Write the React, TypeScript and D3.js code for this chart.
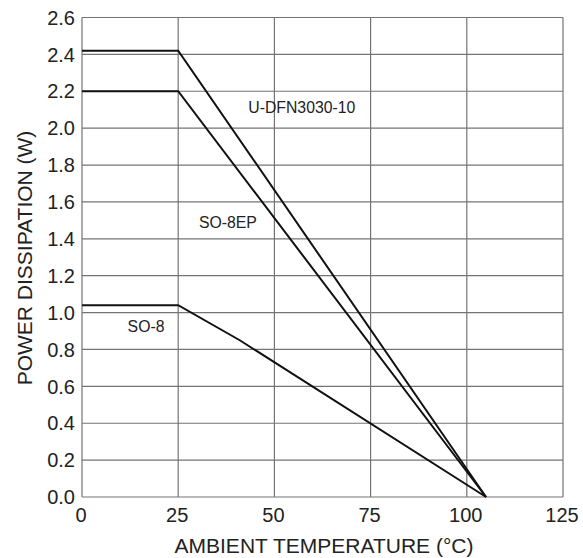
import React from "react";
import * as d3 from "d3";

const xTicks = [0, 25, 50, 75, 100, 125];
const yTicks = [0, 0.2, 0.4, 0.6, 0.8, 1.0, 1.2, 1.4, 1.6, 1.8, 2.0, 2.2, 2.4, 2.6];

const udfnTemp = [0, 25, 105];
const udfnPower = [2.42, 2.42, 0];
const so8epTemp = [0, 25, 105];
const so8epPower = [2.2, 2.2, 0];
const so8Temp = [0, 25, 41, 105];
const so8Power = [1.04, 1.04, 0.85, 0];

const seriesLabels = ["U-DFN3030-10", "SO-8EP", "SO-8"];

const W = 583;
const H = 558;
const FONT = "'Liberation Sans', Arial, Helvetica, sans-serif";

export default function App() {
  const x = d3.scaleLinear().domain([0, 125]).range([82, 563]);
  const y = d3.scaleLinear().domain([0, 2.6]).range([497, 17.5]);
  const line = d3
    .line<[number, number]>()
    .x((d) => x(d[0]))
    .y((d) => y(d[1]));
  const zip = (a: number[], b: number[]) => a.map((v, i) => [v, b[i]] as [number, number]);
  const series = [
    { pts: zip(udfnTemp, udfnPower), label: seriesLabels[0], lx: 43.2, ly: 2.08 },
    { pts: zip(so8epTemp, so8epPower), label: seriesLabels[1], lx: 30.4, ly: 1.457 },
    { pts: zip(so8Temp, so8Power), label: seriesLabels[2], lx: 11.85, ly: 0.896 },
  ];
  const gridColor = "#747474";
  return (
    <svg
      width={W}
      height={H}
      style={{ position: "absolute", left: 0, top: 0, background: "#fff" }}
      fontFamily={FONT}
    >
      {xTicks.map((t) => (
        <line key={"gx" + t} x1={x(t)} x2={x(t)} y1={y(0)} y2={y(2.6)} stroke={gridColor} strokeWidth={1.2} />
      ))}
      {yTicks.map((t) => (
        <line key={"gy" + t} x1={x(0)} x2={x(125)} y1={y(t)} y2={y(t)} stroke={gridColor} strokeWidth={1.2} />
      ))}
      {series.map((s) => (
        <path key={s.label} d={line(s.pts) || ""} fill="none" stroke="#111" strokeWidth={2} strokeLinejoin="miter" />
      ))}
      {series.map((s) => (
        <text key={"l" + s.label} x={x(s.lx)} y={y(s.ly)} fontSize={15.8} fill="#222">
          {s.label}
        </text>
      ))}
      {yTicks.map((t) => (
        <text key={"ty" + t} x={75} y={y(t)} dy="0.36em" textAnchor="end" fontSize={20} fill="#222">
          {t.toFixed(1)}
        </text>
      ))}
      {xTicks.map((t) => (
        <text key={"tx" + t} x={x(t) - 1} y={522} textAnchor="middle" fontSize={20} fill="#222">
          {t}
        </text>
      ))}
      <text x={324} y={553} textAnchor="middle" fontSize={21} fill="#222">
        AMBIENT TEMPERATURE (°C)
      </text>
      <text
        transform={`translate(32, 258) rotate(-90)`}
        textAnchor="middle"
        fontSize={21}
        fill="#222"
      >
        POWER DISSIPATION (W)
      </text>
    </svg>
  );
}
